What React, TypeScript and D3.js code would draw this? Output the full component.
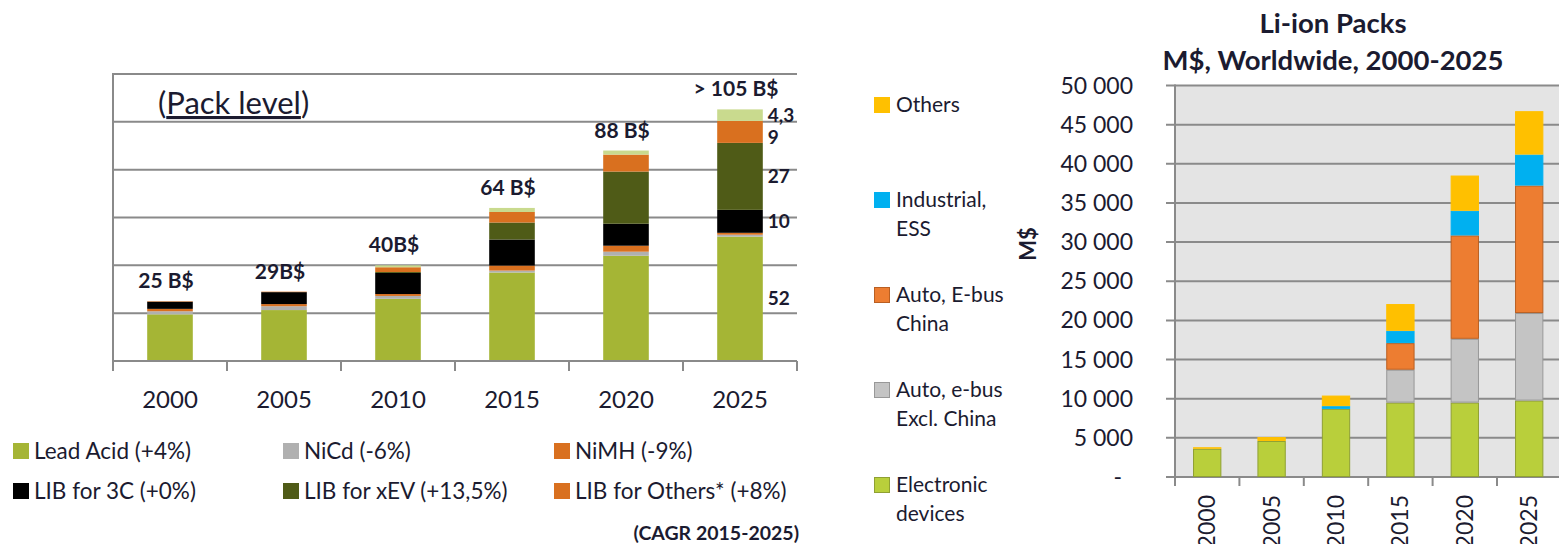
import React, { useRef, useEffect } from 'react';
import * as d3 from 'd3';

// ---- left chart: battery packs market, B$ (pack level) ----
const years = ['2000', '2005', '2010', '2015', '2020', '2025'];
const leadAcid = [19.5, 21.3, 26, 37, 44, 52];
const niCd = [1.3, 1.6, 1.2, 0.8, 1.7, 0.8];
const niMH = [1.0, 0.9, 0.8, 2.1, 2.5, 0.8];
const lib3C = [3.0, 5.0, 8.8, 10.9, 9.2, 9.6];
const libXEV = [0, 0, 0.4, 7.1, 21.8, 28];
const libOthers = [0.2, 0.2, 2.0, 4.4, 7.1, 9.2];
const libTop = [0, 0, 0.8, 1.7, 1.7, 4.8];
const totalLabels = ['25 B$', '29B$', '40B$', '64 B$', '88 B$', '> 105 B$'];
// labels written next to the 2025 bar, keyed by series (top to bottom)
const lastLabels = [
  { key: 'top', text: '4,3' },
  { key: 'others', text: '9' },
  { key: 'xev', text: '27' },
  { key: 'lib3c', text: '10' },
  { key: 'lead', text: '52' },
];
const leftLegend = [
  ['Lead Acid (+4%)', 'NiCd (-6%)', 'NiMH (-9%)'],
  ['LIB for 3C (+0%)', 'LIB for xEV (+13,5%)', 'LIB for Others* (+8%)'],
];

// ---- right chart: Li-ion packs, M$ ----
const electronic = [3600, 4600, 8700, 9500, 9500, 9760];
const autoExChina = [0, 0, 0, 4200, 8150, 11180];
const autoChina = [0, 0, 0, 3400, 13200, 16280];
const industrial = [0, 0, 350, 1570, 3150, 3960];
const othersLi = [200, 500, 1350, 3420, 4500, 5540];
const rightTicks = [0, 5000, 10000, 15000, 20000, 25000, 30000, 35000, 40000, 45000, 50000];
const rightLegend = [
  ['Others'],
  ['Industrial,', 'ESS'],
  ['Auto, E-bus', 'China'],
  ['Auto, e-bus', 'Excl. China'],
  ['Electronic', 'devices'],
];

const FONT = 'Lato, "Noto Sans", sans-serif';
const TEXT = '#1b1b30';
const GRID = '#8a8a8a';

function App() {
  const ref = useRef<SVGSVGElement>(null);

  useEffect(() => {
    const svg = d3.select(ref.current);
    svg.selectAll('*').remove();

    // ================= left chart =================
    const L = { left: 113, right: 797, top: 74, bottom: 361 };
    const leftKeys = ['lead', 'nicd', 'nimh', 'lib3c', 'xev', 'others', 'top'];
    const leftColors: Record<string, string> = {
      lead: '#a5b535', nicd: '#b0b0b0', nimh: '#d9701f', lib3c: '#000000',
      xev: '#4f5b17', others: '#d9701f', top: '#c9da8e',
    };
    const leftRows = years.map((y, i) => ({
      year: y, lead: leadAcid[i], nicd: niCd[i], nimh: niMH[i], lib3c: lib3C[i],
      xev: libXEV[i], others: libOthers[i], top: libTop[i],
    }));
    const x1 = d3.scaleBand().domain(years).range([L.left, L.right]).paddingInner(0.6).paddingOuter(0.3);
    const y1 = d3.scaleLinear().domain([0, 120]).range([L.bottom, L.top]);
    const stack1 = d3.stack<any>().keys(leftKeys)(leftRows);

    const gl = svg.append('g');
    gl.selectAll('.grid').data(d3.range(20, 121, 20)).enter().append('line')
      .attr('x1', L.left).attr('x2', L.right)
      .attr('y1', (d) => y1(d)).attr('y2', (d) => y1(d))
      .attr('stroke', GRID).attr('stroke-width', 2);

    gl.append('g').selectAll('g').data(stack1).enter().append('g')
      .attr('fill', (s) => leftColors[s.key])
      .selectAll('rect').data((s) => s).enter().append('rect')
      .attr('x', (d: any) => x1(d.data.year)!)
      .attr('width', x1.bandwidth())
      .attr('y', (d) => y1(d[1]))
      .attr('height', (d) => y1(d[0]) - y1(d[1]));

    // axes
    const bandStep = x1.step();
    gl.append('line').attr('x1', L.left).attr('x2', L.right).attr('y1', L.bottom).attr('y2', L.bottom)
      .attr('stroke', GRID).attr('stroke-width', 2);
    gl.append('line').attr('x1', L.left).attr('x2', L.left).attr('y1', L.top - 1).attr('y2', L.bottom + 10)
      .attr('stroke', GRID).attr('stroke-width', 2);
    gl.selectAll('.tick').data(d3.range(years.length + 1)).enter().append('line')
      .attr('x1', (i) => L.left + i * bandStep).attr('x2', (i) => L.left + i * bandStep)
      .attr('y1', L.bottom).attr('y2', L.bottom + 10)
      .attr('stroke', GRID).attr('stroke-width', 2);

    gl.selectAll('.year').data(years).enter().append('text')
      .attr('x', (d) => x1(d)! + x1.bandwidth() / 2)
      .attr('y', 400).attr('dy', '0.35em')
      .attr('text-anchor', 'middle')
      .style('font-family', FONT).style('font-size', '24px').attr('fill', TEXT)
      .text((d) => d);

    // totals
    gl.selectAll('.total').data(leftRows).enter().append('text')
      .attr('x', (d) => x1(d.year)! + x1.bandwidth() / 2 - 4)
      .attr('y', (d, i) => y1(stack1[stack1.length - 1][i][1]) - 13)
      .attr('text-anchor', 'middle')
      .style('font-family', FONT).style('font-size', '21px').style('font-weight', 700).attr('fill', TEXT)
      .text((d, i) => totalLabels[i]);

    // 2025 segment labels, pushed down when they would collide
    const last = years.length - 1;
    let prevY = -Infinity;
    const segY = lastLabels.map((d) => {
      const s = stack1.find((k) => k.key === d.key)!;
      const yy = Math.max(y1((s[last][0] + s[last][1]) / 2), prevY + 22);
      prevY = yy;
      return yy;
    });
    gl.selectAll('.seg').data(lastLabels).enter().append('text')
      .attr('x', x1(years[last])! + x1.bandwidth() + 5)
      .attr('y', (d, i) => segY[i])
      .attr('dy', '0.35em')
      .style('font-family', FONT).style('font-size', '19px').style('font-weight', 700).attr('fill', TEXT)
      .text((d) => d.text);

    const pack = gl.append('text').attr('x', 158).attr('y', 114)
      .style('font-family', FONT).style('font-size', '31px').attr('fill', TEXT);
    pack.append('tspan').text('(');
    pack.append('tspan').style('text-decoration', 'underline').text('Pack level');
    pack.append('tspan').text(')');

    // legend
    const legColors = [
      [leftColors.lead, leftColors.nicd, leftColors.nimh],
      [leftColors.lib3c, leftColors.xev, leftColors.others],
    ];
    const colX = [13, 283, 554];
    leftLegend.forEach((row, r) => {
      row.forEach((label, c) => {
        const cy = 451 + r * 40;
        gl.append('rect').attr('x', colX[c]).attr('y', cy - 8).attr('width', 16).attr('height', 16)
          .attr('fill', legColors[r][c]);
        gl.append('text').attr('x', colX[c] + 21).attr('y', cy).attr('dy', '0.35em')
          .style('font-family', FONT).style('font-size', '22.5px').attr('fill', TEXT)
          .text(label);
      });
    });
    gl.append('text').attr('x', 799).attr('y', 533).attr('dy', '0.35em').attr('text-anchor', 'end')
      .style('font-family', FONT).style('font-size', '19.5px').style('font-weight', 700).attr('fill', TEXT)
      .text('(CAGR 2015-2025)');

    // ================= right chart =================
    const R = { left: 1175, top: 85.5, bottom: 477 };
    const rightKeys = ['electronic', 'autoEx', 'autoCn', 'industrial', 'others'];
    const rightFill: Record<string, string> = {
      electronic: '#b9cf3b', autoEx: '#c4c4c4', autoCn: '#ed7d31', industrial: '#00b0f0', others: '#ffc000',
    };
    const rightStroke: Record<string, string> = {
      electronic: '#8fa033', autoEx: '#989898', autoCn: '#b95f22', industrial: '#00b0f0', others: '#ffc000',
    };
    const rightRows = years.map((y, i) => ({
      year: y, electronic: electronic[i], autoEx: autoExChina[i], autoCn: autoChina[i],
      industrial: industrial[i], others: othersLi[i],
    }));
    const step2 = 64.4;
    const x2 = d3.scaleBand().domain(years).range([R.left, R.left + step2 * years.length])
      .paddingInner(0.56).paddingOuter(0.28);
    const y2 = d3.scaleLinear().domain([0, 50000]).range([R.bottom, R.top]);
    const stack2 = d3.stack<any>().keys(rightKeys)(rightRows);

    const gr = svg.append('g');
    gr.append('rect').attr('x', R.left).attr('y', R.top).attr('width', 1559 - R.left).attr('height', R.bottom - R.top)
      .attr('fill', '#e4e4e4');
    gr.selectAll('.grid').data(rightTicks).enter().append('line')
      .attr('x1', R.left - 9).attr('x2', 1559)
      .attr('y1', (d) => y2(d)).attr('y2', (d) => y2(d))
      .attr('stroke', GRID).attr('stroke-width', 2);
    gr.append('line').attr('x1', R.left).attr('x2', R.left).attr('y1', R.top - 1).attr('y2', R.bottom + 9)
      .attr('stroke', GRID).attr('stroke-width', 2);
    gr.selectAll('.tick').data(d3.range(years.length + 1)).enter().append('line')
      .attr('x1', (i) => R.left + i * step2).attr('x2', (i) => R.left + i * step2)
      .attr('y1', R.bottom).attr('y2', R.bottom + 9)
      .attr('stroke', GRID).attr('stroke-width', 2);

    gr.append('g').selectAll('g').data(stack2).enter().append('g')
      .attr('fill', (s) => rightFill[s.key]).attr('stroke', (s) => rightStroke[s.key])
      .selectAll('rect').data((s) => s.filter((d) => d[1] - d[0] > 0)).enter().append('rect')
      .attr('x', (d: any) => x2(d.data.year)! + 0.5)
      .attr('width', x2.bandwidth() - 1)
      .attr('y', (d) => y2(d[1]) + 0.5)
      .attr('height', (d) => Math.max(0, y2(d[0]) - y2(d[1]) - 1))
      .attr('stroke-width', 1);

    const fmt = (v: number) => (v === 0 ? '-' : d3.format(',')(v).replace(',', ' '));
    gr.selectAll('.ylab').data(rightTicks).enter().append('text')
      .attr('x', (d) => (d === 0 ? 1122 : 1133))
      .attr('y', (d) => y2(d)).attr('dy', '0.35em')
      .attr('text-anchor', 'end')
      .style('font-family', FONT).style('font-size', '23px').attr('fill', TEXT)
      .text((d) => fmt(d));

    gr.selectAll('.xlab').data(years).enter().append('text')
      .attr('transform', (d) => `translate(${x2(d)! + x2.bandwidth() / 2},495) rotate(-90)`)
      .attr('dy', '0.35em').attr('text-anchor', 'end')
      .style('font-family', FONT).style('font-size', '23px').attr('fill', TEXT)
      .text((d) => d);

    gr.append('text').attr('transform', 'translate(1028,244) rotate(-90)')
      .attr('text-anchor', 'middle').attr('dy', '0.35em')
      .style('font-family', FONT).style('font-size', '22px').style('font-weight', 700).attr('fill', TEXT)
      .text('M$');

    const title = gr.append('text').attr('x', 1333).attr('text-anchor', 'middle')
      .style('font-family', FONT).style('font-size', '27.5px').style('font-weight', 700).attr('fill', TEXT);
    title.append('tspan').attr('x', 1333).attr('y', 23).attr('dy', '0.35em').text('Li-ion Packs');
    title.append('tspan').attr('x', 1333).attr('y', 60).attr('dy', '0.35em').text('M$, Worldwide, 2000-2025');

    const legKeys = ['others', 'industrial', 'autoCn', 'autoEx', 'electronic'];
    rightLegend.forEach((lines, i) => {
      const cy = 105 + i * 95;
      gr.append('rect').attr('x', 874.5).attr('y', cy - 7.5).attr('width', 15).attr('height', 15)
        .attr('fill', rightFill[legKeys[i]]).attr('stroke', rightStroke[legKeys[i]]);
      lines.forEach((t, j) => {
        gr.append('text').attr('x', 896).attr('y', cy + j * 29).attr('dy', '0.35em')
          .style('font-family', FONT).style('font-size', '21px').attr('fill', TEXT)
          .text(t);
      });
    });
  }, []);

  return (
    <div style={{ position: 'absolute', left: 0, top: 0 }}>
      <svg ref={ref} width={1559} height={544} style={{ display: 'block', background: '#fff' }} />
    </div>
  );
}

export default App;
